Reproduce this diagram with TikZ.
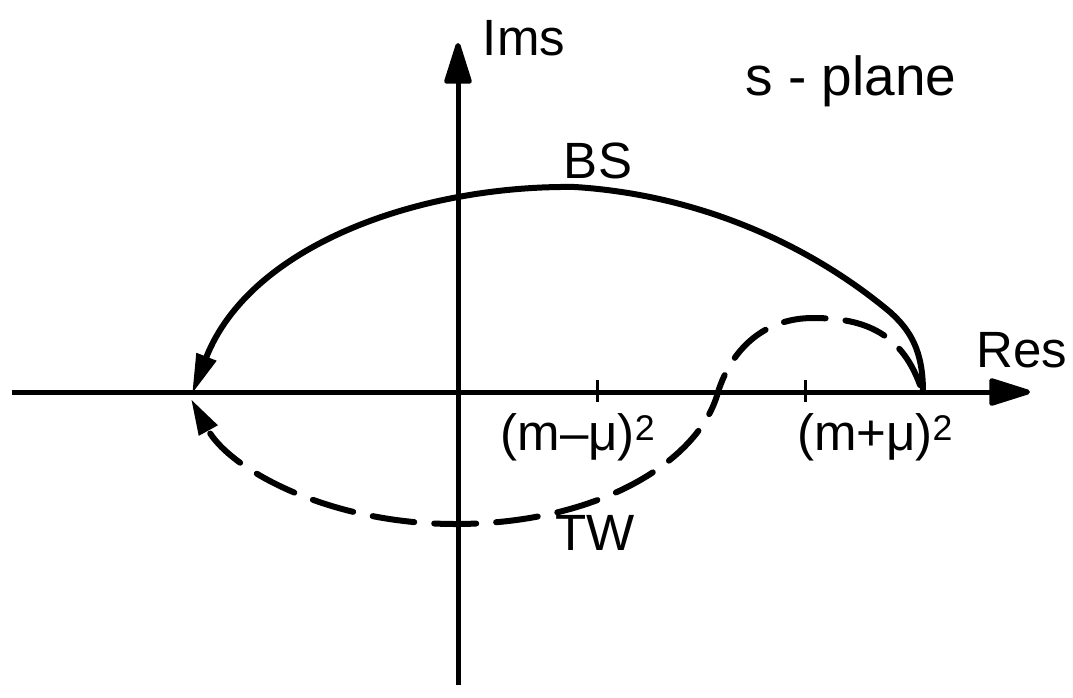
\documentclass[tikz,border=0pt]{standalone}
\usepackage{fontspec}
\setmainfont{Liberation Sans}
\usetikzlibrary{arrows.meta}
\begin{document}
\begin{tikzpicture}[x=1pt,y=-1pt,
  axis/.style={line width=5pt, -{Triangle[length=47pt,width=28pt,round]}},
  curve/.style={line width=6pt},
  dcurve/.style={line width=6pt, line cap=round, dash pattern=on 42pt off 20pt},
  lbl/.style={font=\fontsize{51}{58}\selectfont, inner sep=0pt, anchor=base},
  tickmark/.style={line width=3pt}]
\useasboundingbox (0,0) rectangle (1073,697);
% axes
\coordinate (xs) at (12,392);
\coordinate (xe) at (1030,392);
\coordinate (ys) at (458,685);
\coordinate (ye) at (458,43);
\draw[axis] (xs) -- (xe);
\draw[axis] (ys) -- (ye);
% ticks
\coordinate (t1a) at (597,380);
\coordinate (t1b) at (597,402);
\coordinate (t2a) at (805,380);
\coordinate (t2b) at (805,402);
\draw[tickmark] (t1a) -- (t1b);
\draw[tickmark] (t2a) -- (t2b);
% labels
\node[lbl] (ims) at (524,55) {Ims};
\node[lbl, font=\fontsize{55}{62}\selectfont] (splane) at (851,95) {s - plane};
\node[lbl] (res) at (1022,367) {Res};
\node[lbl] (bs) at (598,178) {BS};
\node[lbl] (tw) at (595,550) {TW};
\node[lbl] (mm) at (578,450) {(m–μ)\textsuperscript{2}};
\node[lbl] (mp) at (875,450) {(m+μ)\textsuperscript{2}};
% curve end points
\coordinate (S) at (923,392);
\coordinate (E) at (192,394);
\coordinate (D) at (920,385);
\coordinate (F) at (191,399);
% BS curve
\draw[curve, -{Triangle[length=40pt,width=20pt]}] (S)
  .. controls (923,350) and (910,330) .. (890,312)
  .. controls (810,245) and (700,195) .. (575,187)
  .. controls (420,185) and (250,245) .. (E);
% TW curve
\draw[dcurve, -{Triangle[length=36pt,width=20pt]}] (D)
  .. controls (900,330) and (860,318) .. (813,318)
  .. controls (765,318) and (732,348) .. (718,392)
  .. controls (700,460) and (600,524) .. (455,524)
  .. controls (330,524) and (230,470) .. (F);
\end{tikzpicture}
\end{document}
